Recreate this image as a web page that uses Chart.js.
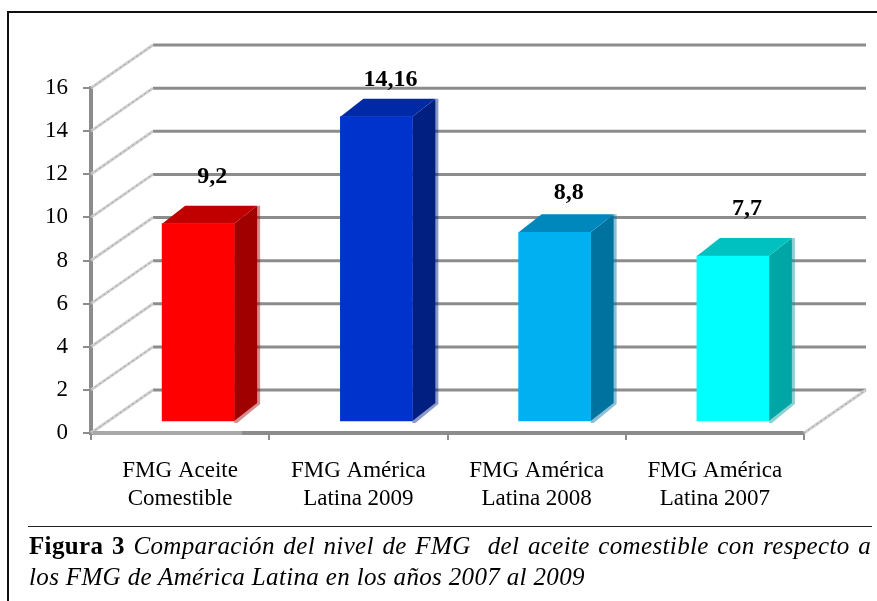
<!DOCTYPE html>
<html>
<head>
<meta charset="utf-8">
<title>FMG</title>
<script src="https://cdn.jsdelivr.net/npm/chart.js@4"></script>
<style>
  html, body { margin: 0; padding: 0; background: #fff; }
  #page { position: relative; width: 877px; height: 601px; overflow: hidden; }
  #frame { position: absolute; left: 7px; top: 11px; width: 870px; height: 590px;
           border-left: 2px solid #111; border-top: 2px solid #111; }
  #plot { position: absolute; left: 0; top: 0; }
  #rule { position: absolute; left: 28px; top: 526px; width: 844px; border-top: 1px solid #222; }
  .caption { position: absolute; left: 29px; font-family: "Liberation Serif", serif;
             font-size: 25px; line-height: 30px; letter-spacing: .35px; color: #000;
             white-space: pre; font-style: italic; }
  .caption b { font-style: normal; }
</style>
</head>
<body>
<div id="page">
  <canvas id="plot" width="877" height="601"></canvas>
  <div id="frame"></div>
  <div id="rule"></div>
  <div class="caption" style="top:531px;word-spacing:2px"><b>Figura 3</b> Comparación del nivel de FMG  del aceite comestible con respecto a</div>
  <div class="caption" style="top:562px">los FMG de América Latina en los años 2007 al 2009</div>
</div>
<script>
const categories = [
  ["FMG Aceite", "Comestible"],
  ["FMG América", "Latina 2009"],
  ["FMG América", "Latina 2008"],
  ["FMG América", "Latina 2007"]
];
const values = [9.2, 14.16, 8.8, 7.7];
const frontColors = ["#ff0000", "#0033cc", "#00b0f0", "#00ffff"];
const topColors = ["#c00000", "#0029a8", "#0088bd", "#00c0c0"];
const sideColors = ["#a00000", "#001f80", "#00729f", "#00a6a6"];
const shadowColors = ["rgba(160,0,0,.45)", "rgba(0,31,128,.45)", "rgba(0,114,159,.45)", "rgba(0,150,150,.45)"];
const labelLift = [47, 37, 39, 47];

const axisGray = "#8c8c8c";
const serif = "Liberation Serif";

// fake 3D: the walls sit behind the axes, bars float a little over the floor
const wall = { dx: 62, dy: -43 };
const barShift = { dx: 18, dy: -11 };
const barDepth = { dx: 23, dy: -18 };

function poly(ctx, pts, fill) {
  ctx.beginPath();
  pts.forEach((p, i) => i ? ctx.lineTo(p[0], p[1]) : ctx.moveTo(p[0], p[1]));
  ctx.closePath();
  ctx.fillStyle = fill;
  ctx.fill();
}

function diagonal(ctx, x, y) {
  ctx.save();
  ctx.beginPath();
  ctx.moveTo(x, y);
  ctx.lineTo(x + wall.dx, y + wall.dy);
  ctx.lineWidth = 3;
  ctx.strokeStyle = "#cfcfcf";
  ctx.stroke();
  ctx.lineWidth = 1;
  ctx.strokeStyle = "#a0a0a0";
  ctx.setLineDash([2, 3]);
  ctx.stroke();
  ctx.restore();
}

const walls = {
  id: "walls",
  beforeDatasetsDraw(chart) {
    const { ctx, chartArea, scales } = chart;
    scales.y.ticks.forEach(t => {
      const y = scales.y.getPixelForValue(t.value);
      ctx.beginPath();
      ctx.moveTo(chartArea.left + wall.dx, y + wall.dy);
      ctx.lineTo(chartArea.right + wall.dx, y + wall.dy);
      ctx.lineWidth = 3;
      ctx.strokeStyle = axisGray;
      ctx.stroke();
      diagonal(ctx, chartArea.left, y);
    });
    const floor = scales.y.getPixelForValue(0);
    diagonal(ctx, chartArea.right, floor);
    // first stretch of the floor edge is paler
    ctx.beginPath();
    ctx.moveTo(chartArea.left + 2, floor);
    ctx.lineTo(242, floor);
    ctx.lineWidth = 4;
    ctx.strokeStyle = "#a8a8a8";
    ctx.stroke();
  }
};

const bars3d = {
  id: "bars3d",
  beforeDatasetDraw(chart, args) {
    const { ctx } = chart;
    ctx.save();
    ctx.translate(barShift.dx, barShift.dy);
    const d = barDepth;
    args.meta.data.forEach((bar, i) => {
      const l = bar.x - bar.width / 2, r = bar.x + bar.width / 2;
      const t = bar.y, b = bar.base;
      poly(ctx, [[r + d.dx, t + d.dy], [r + d.dx + 3, t + d.dy], [r + d.dx + 3, b + d.dy + 1],
                 [r + 3, b + 2], [r, b + 2]], shadowColors[i]);
      poly(ctx, [[r, t], [r + d.dx, t + d.dy], [r + d.dx, b + d.dy], [r, b]], sideColors[i]);
      poly(ctx, [[l, t], [l + d.dx, t + d.dy], [r + d.dx, t + d.dy], [r, t]], topColors[i]);
    });
  },
  afterDatasetDraw(chart) {
    chart.ctx.restore();
  },
  afterDatasetsDraw(chart) {
    const { ctx } = chart;
    ctx.save();
    ctx.font = "bold 24px '" + serif + "'";
    ctx.fillStyle = "#000";
    ctx.textAlign = "center";
    ctx.textBaseline = "middle";
    chart.getDatasetMeta(0).data.forEach((bar, i) => {
      const text = String(values[i]).replace(".", ",");
      ctx.fillText(text, bar.x + barShift.dx + 14, bar.y + barShift.dy - labelLift[i]);
    });
    ctx.restore();
  }
};

new Chart(document.getElementById("plot"), {
  type: "bar",
  data: {
    labels: categories,
    datasets: [{
      data: values,
      backgroundColor: frontColors,
      borderWidth: 0,
      barThickness: 72,
      clip: false
    }]
  },
  options: {
    responsive: false,
    animation: false,
    layout: { padding: { top: 88, right: 73, left: 0, bottom: 0 } },
    plugins: { legend: { display: false }, tooltip: { enabled: false } },
    scales: {
      x: {
        afterFit(scale) { scale.height = 168; },
        grid: { offset: true, drawOnChartArea: false, color: axisGray, lineWidth: 2, tickLength: 7 },
        border: { color: axisGray, width: 4 },
        ticks: {
          color: "#000",
          padding: 17,
          maxRotation: 0,
          font: { family: serif, size: 23, lineHeight: 1.22 }
        }
      },
      y: {
        min: 0,
        max: 16,
        afterFit(scale) { scale.width = 91; },
        grid: { drawOnChartArea: false, color: axisGray, lineWidth: 2, tickLength: 8 },
        border: { color: axisGray, width: 4 },
        ticks: {
          stepSize: 2,
          color: "#000",
          padding: 15,
          font: { family: serif, size: 23 }
        }
      }
    }
  },
  plugins: [walls, bars3d]
});
</script>
</body>
</html>
